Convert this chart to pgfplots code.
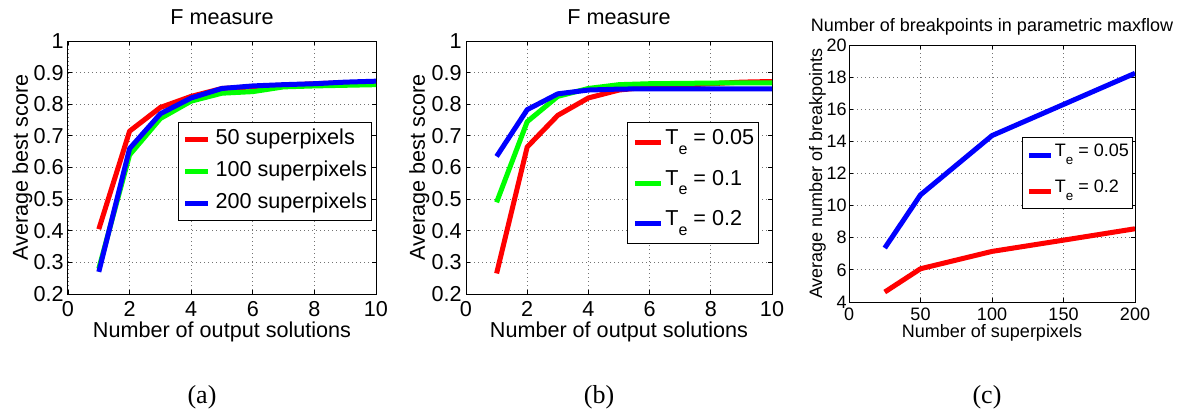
\documentclass[border=0pt]{standalone}
\usepackage{pgfplots}
\pgfplotsset{compat=1.18}
\usepackage{fontspec}
\setmainfont{Liberation Sans}
\newfontfamily\capfont{Liberation Serif}
\newcommand\fsA{\fontsize{10.8pt}{13pt}\selectfont}
\newcommand\fsC{\fontsize{9pt}{11pt}\selectfont}
\newcommand\TeA{T\raisebox{-0.45em}{\fontsize{8pt}{8pt}\selectfont e}}
\newcommand\TeC{T\raisebox{-0.45em}{\fontsize{6.7pt}{7pt}\selectfont e}}
\pgfplotsset{
 every axis title/.style={at={(axis description cs:0.5,1)}, anchor=base},
 mlab/.style={
  scale only axis, anchor=south west,
  axis line style={line width=0.5pt},
  grid=major,
  major grid style={dash pattern=on 0.6pt off 1.4pt, black!55, line width=0.4pt},
  tick align=inside, major tick length=2pt, tick style={black, line width=0.4pt},
  /pgf/number format/assume math mode=true,
  every axis plot/.append style={line width=2.5pt, line join=round},
  legend cell align=left,
  yticklabel style={anchor=east, inner sep=0pt, xshift=-2pt},
  xticklabel style={anchor=base, inner sep=0pt},
  xlabel style={at={(axis description cs:0.5,0)}, anchor=base},
 }
}
\begin{document}
\begin{tikzpicture}
\useasboundingbox (0,0) rectangle (589.5pt,207pt);
% ---------------- (a)
\begin{axis}[mlab, at={(34pt,60pt)}, width=154pt, height=126.5pt,
  xmin=0, xmax=10, ymin=0.2, ymax=1,
  xtick={0,2,...,10}, ytick={0.2,0.3,...,1.0},
  yticklabel style={/pgf/number format/.cd, fixed, precision=1},
  tick label style={font=\fsA}, label style={font=\fsA}, title style={font=\fsA, yshift=8.5pt},
  xticklabel style={yshift=-11.3pt},
  xlabel style={yshift=-21.5pt},
  ylabel style={at={(axis description cs:-0.13,0.5)}, anchor=base},
  title={F measure}, xlabel={Number of output solutions}, ylabel={Average best score},
  legend image code/.code={\draw[#1] (0pt,0pt) -- (11.5pt,0pt);},
  legend style={at={(0.987,0.68)}, anchor=north east, font=\fsA, draw=black, line width=0.5pt,
    inner xsep=2.3pt, inner ysep=3pt, row sep=5pt, column sep=2.5pt,
    nodes={inner sep=0pt, text height=8pt, text depth=3pt}},
]
\addplot[red] coordinates {(1,0.405) (2,0.715) (3,0.79) (4,0.825) (5,0.85) (6,0.855) (7,0.86) (8,0.865) (9,0.868) (10,0.87)};
\addplot[green] coordinates {(1,0.28) (2,0.64) (3,0.755) (4,0.81) (5,0.835) (6,0.84) (7,0.855) (8,0.858) (9,0.86) (10,0.862)};
\addplot[blue] coordinates {(1,0.27) (2,0.66) (3,0.77) (4,0.82) (5,0.85) (6,0.858) (7,0.862) (8,0.865) (9,0.87) (10,0.873)};
\legend{50 superpixels, 100 superpixels, 200 superpixels}
\end{axis}
% ---------------- (b)
\begin{axis}[mlab, at={(233pt,60pt)}, width=153pt, height=126.5pt,
  xmin=0, xmax=10, ymin=0.2, ymax=1,
  xtick={0,2,...,10}, ytick={0.2,0.3,...,1.0},
  yticklabel style={/pgf/number format/.cd, fixed, precision=1},
  tick label style={font=\fsA}, label style={font=\fsA}, title style={font=\fsA, yshift=8.5pt},
  xticklabel style={yshift=-11.3pt},
  xlabel style={yshift=-21.5pt},
  ylabel style={at={(axis description cs:-0.134,0.5)}, anchor=base},
  title={F measure}, xlabel={Number of output solutions}, ylabel={Average best score},
  legend image code/.code={\draw[#1] (0pt,0pt) -- (13pt,0pt);},
  legend style={at={(0.9575,0.68)}, anchor=north east, font=\fsA, draw=black, line width=0.5pt,
    inner xsep=2.2pt, inner ysep=3pt, row sep=6.3pt, column sep=1pt,
    nodes={inner sep=0pt, text height=8pt, text depth=6pt}},
]
\addplot[red] coordinates {(1,0.265) (2,0.665) (3,0.765) (4,0.82) (5,0.845) (6,0.855) (7,0.86) (8,0.865) (9,0.87) (10,0.872)};
\addplot[green] coordinates {(1,0.49) (2,0.745) (3,0.825) (4,0.85) (5,0.862) (6,0.865) (7,0.866) (8,0.867) (9,0.868) (10,0.868)};
\addplot[blue] coordinates {(1,0.635) (2,0.783) (3,0.833) (4,0.845) (5,0.848) (6,0.849) (7,0.849) (8,0.849) (9,0.849) (10,0.849)};
\legend{\TeA{} = 0.05, \TeA{} = 0.1, \TeA{} = 0.2}
\end{axis}
% ---------------- (c)
\begin{axis}[mlab, at={(424.5pt,56pt)}, width=143pt, height=128.5pt,
  xmin=0, xmax=200, ymin=4, ymax=20,
  xtick={0,50,...,200}, ytick={4,6,...,20},
  yticklabel style={xshift=1pt},
  tick label style={font=\fsC}, label style={font=\fsC}, title style={font=\fsC, yshift=6.7pt},
  xticklabel style={yshift=-9.3pt},
  xlabel style={yshift=-17.5pt},
  ylabel style={at={(axis description cs:-0.094,0.5)}, anchor=base},
  title={Number of breakpoints in parametric maxflow}, xlabel={Number of superpixels}, ylabel={Average number of breakpoints},
  legend image code/.code={\draw[#1] (0pt,0pt) -- (11pt,0pt);},
  legend style={at={(0.993,0.642)}, anchor=north east, font=\fsC, draw=black, line width=0.5pt,
    inner xsep=1.8pt, inner ysep=2.9pt, row sep=6.3pt, column sep=0.8pt,
    nodes={inner sep=0pt, text height=6.7pt, text depth=5pt}},
]
\addplot[blue] coordinates {(25,7.36) (50,10.67) (100,14.36) (150,16.3) (200,18.24)};
\addplot[red] coordinates {(25,4.62) (50,6.07) (100,7.15) (150,7.85) (200,8.56)};
\legend{\TeC{} = 0.05, \TeC{} = 0.2}
\end{axis}
% captions
\node[font=\capfont\fontsize{13pt}{15pt}\selectfont, anchor=base] at (101pt,5.5pt) {(a)};
\node[font=\capfont\fontsize{13pt}{15pt}\selectfont, anchor=base] at (299.5pt,5.5pt) {(b)};
\node[font=\capfont\fontsize{13pt}{15pt}\selectfont, anchor=base] at (493.5pt,5.5pt) {(c)};
\end{tikzpicture}
\end{document}
